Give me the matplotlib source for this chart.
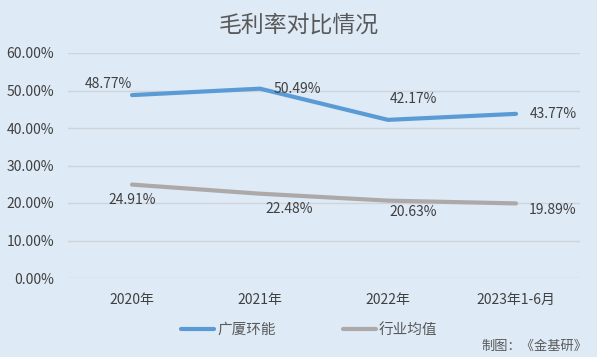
import matplotlib.pyplot as plt
from matplotlib.ticker import FuncFormatter

plt.rcParams['font.family'] = ['Noto Sans CJK SC', 'DejaVu Sans']

# Data
years = ["2020年", "2021年", "2022年", "2023年1-6月"]
guangsha = [48.77, 50.49, 42.17, 43.77]
industry = [24.91, 22.48, 20.63, 19.89]

bg = "#DEEAF6"
blue = "#5B9BD5"
gray = "#ADA9A9"

fig = plt.figure(figsize=(5.97, 3.57), dpi=100, facecolor=bg)
ax = fig.add_axes([68 / 597, 1 - 278 / 357, 512 / 597, 225 / 357])
ax.set_facecolor(bg)

x = range(len(years))
ax.plot(x, guangsha, color=blue, lw=3, solid_capstyle="round", label="广厦环能")
ax.plot(x, industry, color=gray, lw=3, solid_capstyle="round", label="行业均值")

# label offsets in pixels (dx, dy)
blue_off = [(-24, 11), (37, 0), (25, 21), (37, 0)]
gray_off = [(0, -15), (29, -15), (25, -11), (37, -7)]
for i, v in enumerate(guangsha):
    dx, dy = blue_off[i]
    ax.annotate(f"{v:.2f}%", (i, v), xytext=(dx * 0.72, dy * 0.72),
                textcoords="offset points", ha="center", va="center",
                fontsize=10, color="#404040")
for i, v in enumerate(industry):
    dx, dy = gray_off[i]
    ax.annotate(f"{v:.2f}%", (i, v), xytext=(dx * 0.72, dy * 0.72),
                textcoords="offset points", ha="center", va="center",
                fontsize=10, color="#404040")

ax.set_xlim(-0.5, 3.5)
ax.set_ylim(0, 60)
ax.set_yticks(range(0, 61, 10))
ax.yaxis.set_major_formatter(FuncFormatter(lambda v, p: f"{v:.2f}%"))
ax.set_xticks(list(x))
ax.set_xticklabels(years)
ax.tick_params(length=0, labelsize=10, colors="#404040")
ax.tick_params(axis="x", pad=11)
ax.tick_params(axis="y", pad=10)
ax.grid(axis="y", color="#D0D4D8", lw=1)
ax.set_axisbelow(True)
for s in ax.spines.values():
    s.set_visible(False)

fig.text(299 / 597, 1 - 25 / 357, "毛利率对比情况", ha="center", va="center",
         fontsize=16.5, color="#595959")

fig.legend(loc="center", bbox_to_anchor=(309 / 597, 1 - 330 / 357), ncol=2,
           frameon=False, fontsize=10.5, labelcolor="#595959",
           handlelength=2.3, handletextpad=0.2, columnspacing=4.6)

fig.text(587 / 597, 1 - 346 / 357, "制图：《金基研》", ha="right", va="center",
         fontsize=9.5, color="#595959")

fig.savefig("out.png", dpi=100, facecolor=bg)
